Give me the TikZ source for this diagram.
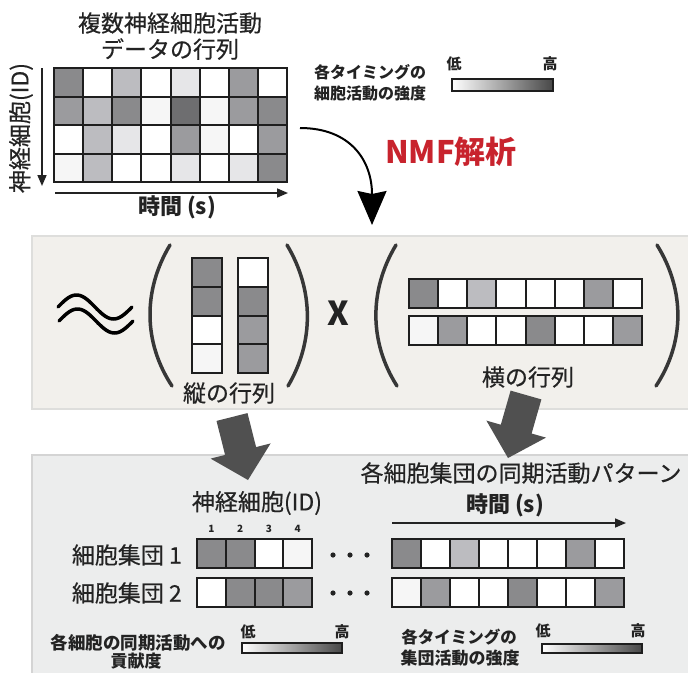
\documentclass[tikz,border=0pt]{standalone}
\usepackage{fontspec}
\setmainfont{Noto Sans CJK JP}
\newfontfamily\jpmed{Noto Sans CJK JP}[FakeBold=0.5]
\usetikzlibrary{arrows.meta}
\definecolor{txt}{RGB}{35,35,35}
\definecolor{cX}{RGB}{110,110,112}
\definecolor{cA}{RGB}{138,138,140}
\definecolor{cB}{RGB}{155,155,158}
\definecolor{cD}{RGB}{188,188,192}
\definecolor{cE}{RGB}{230,230,232}
\definecolor{cF}{RGB}{246,246,246}
\definecolor{cW}{RGB}{255,255,255}
\definecolor{nmfred}{RGB}{200,35,45}
\definecolor{midbg}{RGB}{242,240,236}
\definecolor{midbd}{RGB}{222,222,220}
\definecolor{botbg}{RGB}{236,237,237}
\definecolor{botbd}{RGB}{212,212,212}
\definecolor{blk}{RGB}{80,80,80}
\definecolor{parencol}{RGB}{55,55,55}
\definecolor{bord}{RGB}{30,30,30}
\tikzset{
  cellbox/.style={draw=bord, line width=2pt},
  lbl/.style={inner sep=0pt, text=txt},
  fs/.style={font=\jpmed\fontsize{#1}{#1}\selectfont},
  parenline/.style={draw=parencol, line width=3.5pt, line cap=round},
  thinarrow/.style={draw=txt, line width=1.6pt, -{Triangle[length=11pt,width=9pt]}},
  blockarrow/.style={fill=blk},
  gradbar/.style={left color=white, right color=black!72},
  barframe/.style={draw=bord, line width=2pt},
}
\newcommand\cellrow[5]{\foreach \cc [count=\ii from 0] in {#5}{\draw[cellbox, fill=\cc] ({#1+\ii*#3},{#2}) rectangle ++({#3},{#4});}}
\begin{document}
\begin{tikzpicture}[x=1pt,y=-1pt]
\useasboundingbox (0,0) rectangle (688,672);
% panels
\draw[fill=midbg, draw=midbd, line width=1.5pt] (32,236) rectangle (690,409);
\draw[fill=botbg, draw=botbd, line width=1.5pt] (32,455) rectangle (690,674);

% ---- top matrix
\node[lbl, fs=23] (title1) at (170,23) {複数神経細胞活動};
\node[lbl, fs=23] (title2) at (170,49) {データの行列};
\cellrow{54}{68}{29.125}{28.5}{cA,cW,cD,cW,cE,cW,cB,cW}
\cellrow{54}{96.5}{29.125}{28.5}{cB,cD,cA,cF,cX,cF,cB,cA}
\cellrow{54}{125}{29.125}{28.5}{cW,cD,cE,cW,cB,cF,cW,cB}
\cellrow{54}{153.5}{29.125}{28.5}{cF,cD,cW,cW,cE,cW,cE,cA}
\coordinate (vs) at (42,68);
\coordinate (ve) at (42,186);
\draw[thinarrow] (vs) -- (ve);
\coordinate (hs) at (55,193);
\coordinate (he) at (288,193);
\draw[thinarrow] (hs) -- (he);
\node[lbl, fs=23, rotate=90] (ylab) at (21,128) {神経細胞(ID)};
\node[lbl, font=\bfseries\fontsize{22}{22}\selectfont] (xlab) at (177,207) {時間 (s)};

% ---- top legend
\node[lbl, font=\bfseries\fontsize{16}{16}\selectfont] (lg1) at (370,72) {各タイミングの};
\node[lbl, font=\bfseries\fontsize{16}{16}\selectfont] (lg2) at (370,93) {細胞活動の強度};
\node[lbl, font=\bfseries\fontsize{15}{15}\selectfont] (lo1) at (454,64) {低};
\node[lbl, font=\bfseries\fontsize{15}{15}\selectfont] (hi1) at (550,64) {高};
\shade[gradbar] (452,79) rectangle (553,91);
\draw[barframe] (452,79) rectangle (553,91);

% ---- NMF arrow
\coordinate (ns) at (300,128);
\coordinate (ne) at (372,225);
\draw[line width=2pt, draw=black, -{Stealth[length=34pt,width=29pt,inset=3pt]}] (ns) .. controls (350,128) and (372,160) .. (ne);
\node[lbl, text=nmfred, font=\bfseries\fontsize{31}{31}\selectfont] (nmf) at (451,152) {NMF解析};

% ---- middle panel
\draw[line width=3.5pt, line cap=round, draw=black] plot[domain=0:1, samples=50] ({58+74*\x},{307-12*sin(360*\x)});
\draw[line width=3.5pt, line cap=round, draw=black] plot[domain=0:1, samples=50] ({59+74*\x},{321-12*sin(360*\x)});
\draw[parenline] (170,245) .. controls (143,290) and (143,342) .. (172,386);
\draw[parenline] (287,245) .. controls (314,290) and (314,342) .. (288,386);
\draw[parenline] (396,245) .. controls (369,290) and (369,342) .. (397,386);
\draw[parenline] (657,245) .. controls (685,290) and (685,342) .. (656,386);
\foreach \cc [count=\ii from 0] in {cA,cA,cW,cF}{\draw[cellbox, fill=\cc] (192,{258+\ii*28.75}) rectangle ++(30,28.75);}
\foreach \cc [count=\ii from 0] in {cW,cA,cB,cB}{\draw[cellbox, fill=\cc] (238,{258+\ii*28.75}) rectangle ++(30,28.75);}
\node[lbl, fs=23] (wlab) at (229,393) {縦の行列};
\node[lbl, font=\bfseries\fontsize{33}{33}\selectfont] (times) at (338,313) {X};
\cellrow{409}{279}{29.125}{29}{cA,cW,cD,cW,cW,cW,cB,cW}
\cellrow{409}{316}{29.125}{29}{cF,cB,cW,cW,cA,cW,cW,cB}
\node[lbl, fs=23] (hlab) at (528,377) {横の行列};

% ---- bottom panel
\node[lbl, fs=23] (idlab) at (257,503) {神経細胞(ID)};
\foreach \n [count=\ii from 0] in {1,2,3,4}{\node[lbl, font=\bfseries\fontsize{10}{10}\selectfont] (num\n) at ({211.4+\ii*28.75},529) {\n};}
\cellrow{197}{539}{28.75}{29}{cA,cA,cW,cF}
\cellrow{197}{578}{28.75}{29}{cW,cA,cA,cB}
\node[lbl, fs=23, anchor=east] (g1) at (182,555) {細胞集団 1};
\node[lbl, fs=23, anchor=east] (g2) at (182,593) {細胞集団 2};
\foreach \px in {333,350,367}{
  \fill[txt] (\px,555) circle (2.6);
  \fill[txt] (\px,593) circle (2.6);
}
\node[lbl, fs=23] (pat) at (521,473) {各細胞集団の同期活動パターン};
\node[lbl, font=\bfseries\fontsize{22}{22}\selectfont] (tlab2) at (505,505) {時間 (s)};
\coordinate (bs) at (392,523);
\coordinate (be) at (626,523);
\draw[thinarrow] (bs) -- (be);
\cellrow{392}{539}{29}{29}{cA,cW,cD,cW,cW,cW,cB,cW}
\cellrow{392}{578}{29}{29}{cF,cB,cW,cW,cA,cW,cW,cB}

% bottom legends
\node[lbl, font=\bfseries\fontsize{17.5}{17.5}\selectfont] (bl1) at (138,643) {各細胞の同期活動への};
\node[lbl, font=\bfseries\fontsize{17}{17}\selectfont] (bl2) at (136,661) {貢献度};
\node[lbl, font=\bfseries\fontsize{15}{15}\selectfont] (lo2) at (248,632) {低};
\node[lbl, font=\bfseries\fontsize{15}{15}\selectfont] (hi2) at (342,632) {高};
\shade[gradbar] (242,643) rectangle (342,653);
\draw[barframe] (242,643) rectangle (342,653);
\node[lbl, font=\bfseries\fontsize{16.5}{16.5}\selectfont] (br1) at (459,637) {各タイミングの};
\node[lbl, font=\bfseries\fontsize{17}{17}\selectfont] (br2) at (460,658) {集団活動の強度};
\node[lbl, font=\bfseries\fontsize{15}{15}\selectfont] (lo3) at (543,631) {低};
\node[lbl, font=\bfseries\fontsize{15}{15}\selectfont] (hi3) at (638,631) {高};
\shade[gradbar] (542,644) rectangle (642,653);
\draw[barframe] (542,644) rectangle (642,653);

% block arrows
\fill[blockarrow] (216.5,420.9) -- (247.5,413.1) -- (256.1,447.1) -- (270.6,443.4) -- (248,480) -- (210.6,458.6) -- (225.1,454.9) -- cycle;
\fill[blockarrow] (510.6,390.6) -- (541.4,399.4) -- (531.6,433.5) -- (546,437.6) -- (508,458) -- (486.4,420.6) -- (500.8,424.7) -- cycle;
\end{tikzpicture}
\end{document}
